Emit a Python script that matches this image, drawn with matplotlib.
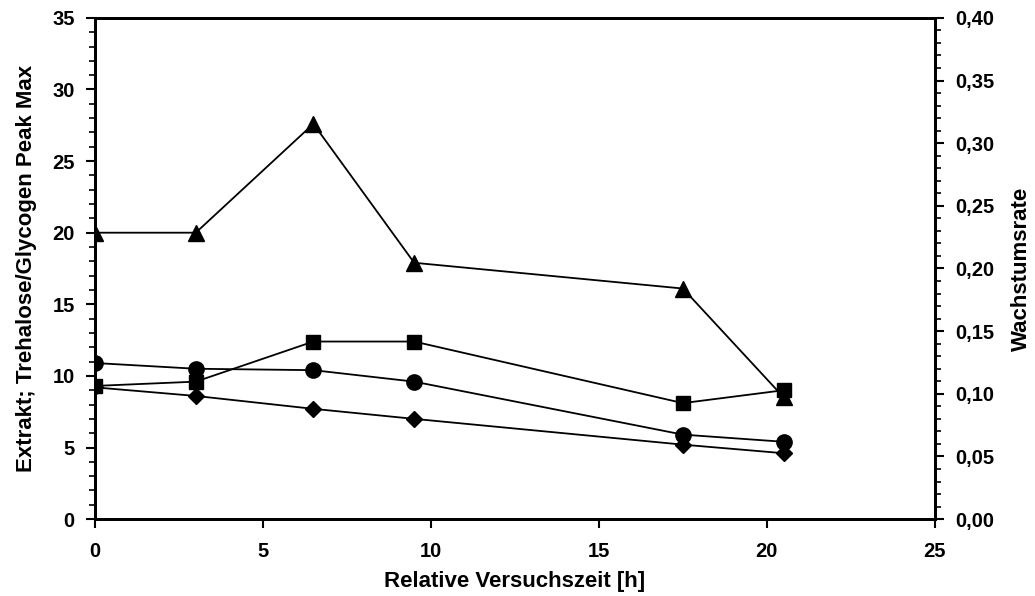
import matplotlib
matplotlib.use("Agg")
import matplotlib.pyplot as plt
from matplotlib.ticker import MultipleLocator, FuncFormatter

plt.rcParams["font.family"] = ["Liberation Sans", "DejaVu Sans"]
plt.rcParams["font.weight"] = "bold"

# Relative Versuchszeit [h]
zeit = [0, 3, 6.5, 9.5, 17.5, 20.5]

# Werte (linke Achse)
dreieck = [20.0, 20.0, 27.6, 17.9, 16.1, 8.5]
quadrat = [9.3, 9.6, 12.4, 12.4, 8.1, 9.0]
kreis = [10.9, 10.5, 10.4, 9.6, 5.9, 5.4]
raute = [9.2, 8.6, 7.7, 7.0, 5.2, 4.6]

fig = plt.figure(figsize=(10.35, 5.96), dpi=100)
ax = fig.add_axes([0.0918, 0.129, 0.8115, 0.841])

ax.plot(zeit, dreieck, color="black", lw=1.3, marker="^", ms=11)
ax.plot(zeit, quadrat, color="black", lw=1.3, marker="s", ms=10)
ax.plot(zeit, kreis, color="black", lw=1.3, marker="o", ms=11)
ax.plot(zeit, raute, color="black", lw=1.3, marker="D", ms=8.5)

ax.set_xlim(0, 25)
ax.set_ylim(0, 35)
ax.xaxis.set_major_locator(MultipleLocator(5))
ax.yaxis.set_major_locator(MultipleLocator(5))
ax.yaxis.set_minor_locator(MultipleLocator(1))
ax.tick_params(axis="both", which="major", direction="out", length=6.5, width=1.5, labelsize=14.5)
ax.tick_params(axis="y", which="minor", direction="out", length=4.5, width=1.2)
ax.tick_params(axis="x", pad=10)
ax.tick_params(axis="y", pad=8)
for sp in ax.spines.values():
    sp.set_linewidth(2)
for lab in ax.get_xticklabels() + ax.get_yticklabels():
    lab.set_fontweight("bold")

ax.set_xlabel("Relative Versuchszeit [h]", fontsize=16, fontweight="bold", labelpad=7)
ax.set_ylabel("Extrakt; Trehalose/Glycogen Peak Max", fontsize=16, fontweight="bold", labelpad=11)

ax2 = ax.twinx()
ax2.set_ylim(0, 0.40)
ax2.yaxis.set_major_locator(MultipleLocator(0.05))
ax2.yaxis.set_minor_locator(MultipleLocator(0.01))
ax2.yaxis.set_major_formatter(FuncFormatter(lambda v, p: f"{v:.2f}".replace(".", ",")))
ax2.tick_params(axis="y", which="major", direction="out", length=6.5, width=1.5, labelsize=14.5, pad=8)
ax2.tick_params(axis="y", which="minor", direction="out", length=4.5, width=1.2)
for sp in ax2.spines.values():
    sp.set_linewidth(2)
for lab in ax2.get_yticklabels():
    lab.set_fontweight("bold")
ax2.set_ylabel("Wachstumsrate", fontsize=16, fontweight="bold", labelpad=12)

fig.savefig("out.png", dpi=100)
